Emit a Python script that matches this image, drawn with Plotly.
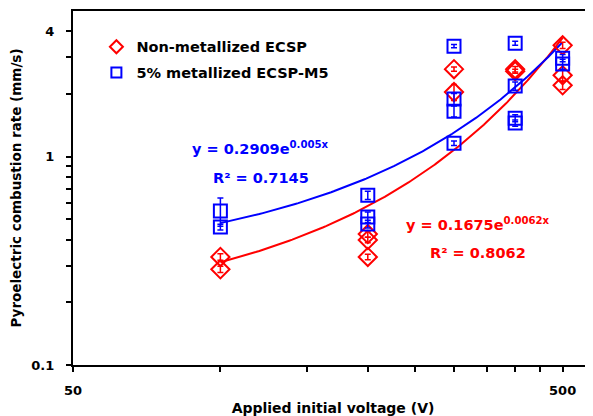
import numpy as np
import plotly.graph_objects as go

# Data
red_x = [100, 100, 200, 200, 200, 300, 300, 400, 400, 500, 500, 500]
red_y = [0.330, 0.288, 0.425, 0.398, 0.330, 2.63, 2.04, 2.63, 2.57, 3.42, 2.46, 2.20]
red_err = [0.012, 0.010, 0.015, 0.012, 0.010, 0.06, 0.18, 0.08, 0.06, 0.12, 0.15, 0.10]

blue_x = [100, 100, 200, 200, 200, 300, 300, 300, 300, 400, 400, 400, 400, 500, 500]
blue_y = [0.548, 0.459, 0.653, 0.513, 0.475, 3.39, 1.89, 1.65, 1.16, 3.50, 2.18, 1.53, 1.45, 2.97, 2.78]
blue_err = [0.085, 0.015, 0.03, 0.03, 0.02, 0.06, 0.12, 0.10, 0.03, 0.08, 0.10, 0.06, 0.05, 0.12, 0.15]

red_a, red_b = 0.1675, 0.0062
blue_a, blue_b = 0.2909, 0.005
fit_x = np.linspace(100, 500, 200)

x_ticks = [50, 100, 150, 200, 250, 300, 350, 400, 450, 500]
x_labels = ["50", "", "", "", "", "", "", "", "", "500"]
y_ticks = [0.1, 0.2, 0.3, 0.4, 0.5, 0.6, 0.7, 0.8, 0.9, 1, 2, 3, 4]
y_labels = ["0.1", "", "", "", "", "", "", "", "", "1", "", "", "4"]

RED = "#FF0000"
BLUE = "#0000FF"
FONT = "DejaVu Sans"
PAD = "\u00a0\u00a0"

fig = go.Figure()
fig.add_trace(go.Scatter(
    x=fit_x, y=red_a * np.exp(red_b * fit_x), mode="lines",
    line=dict(color=RED, width=2), showlegend=False, hoverinfo="skip"))
fig.add_trace(go.Scatter(
    x=fit_x, y=blue_a * np.exp(blue_b * fit_x), mode="lines",
    line=dict(color=BLUE, width=2), showlegend=False, hoverinfo="skip"))
fig.add_trace(go.Scatter(
    x=red_x, y=red_y, mode="markers", showlegend=False,
    marker=dict(symbol="diamond-open", size=14, color=RED, line=dict(width=2, color=RED)),
    error_y=dict(type="data", array=red_err, color=RED, thickness=1.5, width=3)))
fig.add_trace(go.Scatter(
    x=blue_x, y=blue_y, mode="markers", showlegend=False,
    marker=dict(symbol="square-open", size=13, color=BLUE, line=dict(width=2, color=BLUE)),
    error_y=dict(type="data", array=blue_err, color=BLUE, thickness=1.5, width=3)))
# legend entries
fig.add_trace(go.Scatter(
    x=[None], y=[None], mode="markers", name="Non-metallized ECSP", legendgroup="a",
    marker=dict(symbol="diamond-open", size=10, color=RED, line=dict(width=2, color=RED))))
fig.add_trace(go.Scatter(
    x=[None], y=[None], mode="markers", name="5% metallized ECSP-M5", legendgroup="b",
    marker=dict(symbol="square-open", size=10, color=BLUE, line=dict(width=2, color=BLUE))))

fig.update_xaxes(
    type="log", range=[np.log10(50), 2.761], automargin=False,
    tickvals=x_ticks, ticktext=x_labels,
    ticks="outside", ticklen=5, tickwidth=2, tickcolor="black",
    ticklabelstandoff=7,
    showline=True, linewidth=2, linecolor="black", mirror=True,
    showgrid=False, zeroline=False,
    tickfont=dict(family=FONT, size=13, color="black", weight="bold"),
    title=dict(text="Applied initial voltage (V)", standoff=7,
               font=dict(family=FONT, size=14, color="black", weight="bold")))
fig.update_yaxes(
    type="log", range=[-1, np.log10(5)], automargin=False,
    tickvals=y_ticks, ticktext=[t + PAD if t else t for t in y_labels],
    ticks="outside", ticklen=5, tickwidth=2, tickcolor="black",
    showline=True, linewidth=2, linecolor="black",
    showgrid=False, zeroline=False,
    tickfont=dict(family=FONT, size=13, color="black", weight="bold"),
    title=dict(text="Pyroelectric combustion rate (mm/s)",
               font=dict(family=FONT, size=13.5, color="black", weight="bold")))

ann_font_b = dict(family=FONT, size=14.5, color=BLUE, weight="bold")
ann_font_r = dict(family=FONT, size=14.5, color=RED, weight="bold")
for xp, yp, txt, f in [
    (0.3615, 0.613, "y = 0.2909e<sup>0.005x</sup>", ann_font_b),
    (0.3615, 0.528, "R² = 0.7145", ann_font_b),
    (0.779, 0.398, "y = 0.1675e<sup>0.0062x</sup>", ann_font_r),
    (0.779, 0.316, "R² = 0.8062", ann_font_r),
]:
    fig.add_annotation(xref="paper", yref="paper", x=xp, y=yp, showarrow=False,
                       xanchor="center", yanchor="middle", text=txt, font=f)

# The page body adds an 8px offset; size the figure so the plot area lands
# where the reference has it in the 593x416 window.
fig.update_layout(
    width=585, height=408,
    margin=dict(l=65, r=0, t=3, b=51),
    paper_bgcolor="white", plot_bgcolor="white",
    legend=dict(x=0.045, y=0.944, xanchor="left", yanchor="top",
                bgcolor="rgba(0,0,0,0)", tracegroupgap=4,
                font=dict(family=FONT, size=14.5, color="black", weight="bold")),
    showlegend=True,
)

fig.write_html("out.html")
